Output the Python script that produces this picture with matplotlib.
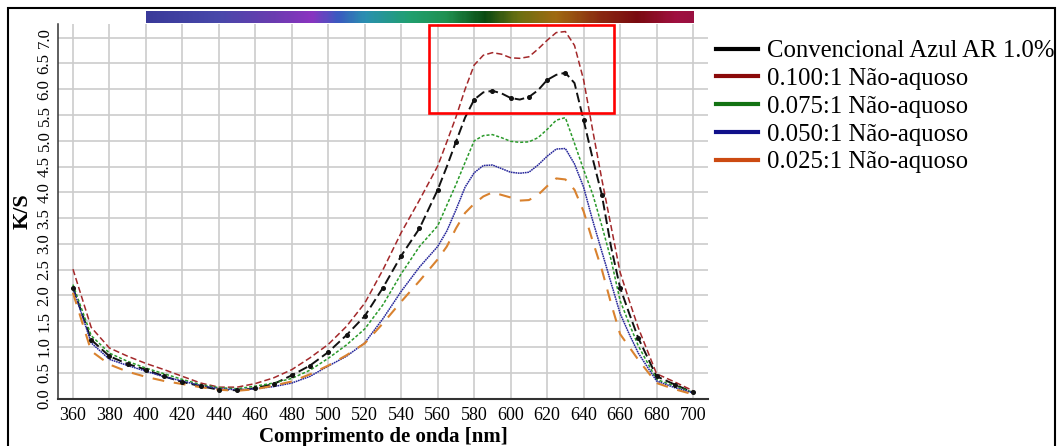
import numpy as np
import matplotlib
matplotlib.use("Agg")
import matplotlib.pyplot as plt
from matplotlib.lines import Line2D
from matplotlib.patches import Rectangle
from matplotlib.colors import LinearSegmentedColormap

# wavelengths (nm): 10 nm steps, 5 nm steps around the absorption band
wavelength = list(range(360, 560, 10)) + list(range(560, 670, 5)) + list(range(670, 701, 10))

# K/S values
conv_azul = [2.15, 1.14, 0.82, 0.67, 0.56, 0.43, 0.32, 0.24, 0.17, 0.16, 0.20, 0.28,
             0.45, 0.64, 0.90, 1.23, 1.60, 2.15, 2.77, 3.30,
             4.05, 4.50, 4.98, 5.45, 5.80, 5.94, 5.97, 5.92, 5.83, 5.80, 5.85,
             5.98, 6.18, 6.28, 6.32, 6.12, 5.40, 4.65, 3.95, 2.95, 2.15, 1.65,
             1.17, 0.43, 0.27, 0.12]
na_0100 = [2.51, 1.38, 0.98, 0.82, 0.68, 0.56, 0.43, 0.30, 0.22, 0.22, 0.29, 0.40,
           0.56, 0.79, 1.05, 1.40, 1.85, 2.50, 3.22, 3.85,
           4.51, 4.98, 5.46, 6.00, 6.47, 6.66, 6.71, 6.68, 6.61, 6.60, 6.63,
           6.78, 6.95, 7.10, 7.12, 6.85, 6.18, 5.20, 4.25, 3.35, 2.45, 1.90,
           1.37, 0.48, 0.32, 0.15]
na_0075 = [2.21, 1.22, 0.88, 0.72, 0.59, 0.48, 0.37, 0.27, 0.21, 0.19, 0.24, 0.30,
           0.39, 0.55, 0.78, 1.04, 1.35, 1.82, 2.42, 2.95,
           3.35, 3.75, 4.15, 4.58, 5.00, 5.10, 5.12, 5.06, 4.99, 4.97, 4.98,
           5.06, 5.22, 5.40, 5.45, 4.95, 4.44, 3.96, 3.35, 2.70, 1.90, 1.45,
           1.02, 0.37, 0.24, 0.12]
na_0050 = [2.15, 1.08, 0.76, 0.64, 0.53, 0.42, 0.34, 0.25, 0.19, 0.17, 0.19, 0.23,
           0.30, 0.43, 0.63, 0.82, 1.08, 1.55, 2.08, 2.55,
           2.95, 3.25, 3.66, 4.10, 4.38, 4.52, 4.53, 4.46, 4.39, 4.37, 4.39,
           4.53, 4.70, 4.84, 4.85, 4.55, 4.10, 3.45, 2.85, 2.25, 1.65, 1.25,
           0.88, 0.34, 0.21, 0.11]
na_0025 = [2.05, 0.92, 0.66, 0.52, 0.42, 0.34, 0.28, 0.22, 0.17, 0.15, 0.18, 0.25,
           0.33, 0.47, 0.64, 0.84, 1.07, 1.46, 1.88, 2.28,
           2.70, 2.95, 3.30, 3.60, 3.78, 3.92, 4.00, 3.95, 3.90, 3.84, 3.85,
           3.95, 4.12, 4.27, 4.25, 4.05, 3.63, 3.05, 2.50, 1.85, 1.25, 1.00,
           0.75, 0.30, 0.18, 0.08]

labels = ["Convencional Azul AR 1.0%", "0.100:1 Não-aquoso", "0.075:1 Não-aquoso",
          "0.050:1 Não-aquoso", "0.025:1 Não-aquoso"]
xticks = list(range(360, 701, 20))
yticks = [i * 0.5 for i in range(15)]

# styles
line_colors = ["#111111", "#a3282a", "#2a9a2a", "#25259a", "#d9822f"]
legend_colors = ["#000000", "#8b0a0a", "#137313", "#10108a", "#cc4a12"]
dash_styles = [(7, 3), (4.5, 2.2), (2.2, 1.4), (1.2, 0.5), (8.5, 7)]
widths = [1.4, 1.1, 1.1, 1.1, 1.5]

plt.rcParams['font.family'] = ['Liberation Serif', 'DejaVu Serif']
plt.rcParams['lines.scale_dashes'] = False

fig = plt.figure(figsize=(10.59, 4.46), dpi=100)
ax = fig.add_axes([58/1059, 1 - 398.5/446, (708 - 58)/1059, (398.5 - 24)/446])

series = [conv_azul, na_0100, na_0075, na_0050, na_0025]
order = [4, 3, 2, 0, 1]
for i in order:
    ln, = ax.plot(wavelength, series[i], color=line_colors[i], lw=widths[i], zorder=3 + i)
    ln.set_dashes(dash_styles[i])
    if i == 0:
        every = [k for k, w in enumerate(wavelength) if w % 10 == 0]
        ax.plot(wavelength, series[i], 'o', color=line_colors[i], ms=2.6,
                markevery=every, zorder=8)

# visible spectrum bar on top of the plot
spec_cmap = LinearSegmentedColormap.from_list("spec", [
    (0.0, "#3a3a9a"), (0.13, "#4848aa"), (0.23, "#6a3cb0"), (0.30, "#8a34c0"),
    (0.35, "#3a5ac0"), (0.40, "#2a90b0"), (0.48, "#20a070"), (0.55, "#209050"),
    (0.62, "#0a4a10"), (0.68, "#6a7010"), (0.75, "#a06a10"), (0.83, "#8a2a10"),
    (0.90, "#7a0a10"), (0.97, "#a01040"), (1.0, "#9a1040")])
grad = np.linspace(0, 1, 300).reshape(1, -1)
ax.imshow(grad, extent=[400, 700, 7.285, 7.505], aspect='auto', cmap=spec_cmap,
          clip_on=False, zorder=10)

# highlight box
ax.add_patch(Rectangle((555.2, 5.54), 101.5, 1.71, fill=False, ec="#ff0000", lw=1.9,
                       zorder=12, clip_on=False))

ax.set_xlim(351.8, 708.2)
ax.set_ylim(0, 7.266)
ax.set_xticks(xticks)
ax.set_xticklabels([str(t) for t in xticks], fontsize=13)
ax.set_yticks(yticks)
ax.set_yticklabels([f"{t:.1f}" for t in yticks], fontsize=12, rotation=90, va='center')
ax.tick_params(axis='both', length=0)
ax.tick_params(axis='x', pad=6)
ax.tick_params(axis='y', pad=4)
ax.grid(True, color="#cccccc", lw=1.2)
ax.set_axisbelow(True)
for s in ['top', 'right']:
    ax.spines[s].set_visible(False)
ax.spines['left'].set_color("#333333")
ax.spines['bottom'].set_color("#333333")
ax.spines['left'].set_linewidth(1.1)
ax.spines['bottom'].set_linewidth(1.5)

ax.set_xlabel("Comprimento de onda [nm]", fontsize=15, fontweight='bold', labelpad=2.5)
ax.set_ylabel("K/S", fontsize=16, fontweight='bold', labelpad=3)

# custom legend with solid handles
handles = [Line2D([0], [0], color=c, lw=3) for c in legend_colors]
fig.legend(handles, labels, loc='upper left', bbox_to_anchor=(716/1059, 1 - 40/446),
           frameon=False, fontsize=17.8, handlelength=1.7, handletextpad=0.35,
           labelspacing=0.22, borderpad=0, borderaxespad=0)

# outer frame
fig.add_artist(Rectangle((8/1059, -0.05), 1047/1059, 1.05 - 8/446, transform=fig.transFigure,
                         fill=False, ec="black", lw=1.5))

fig.savefig("out.png", dpi=100)
